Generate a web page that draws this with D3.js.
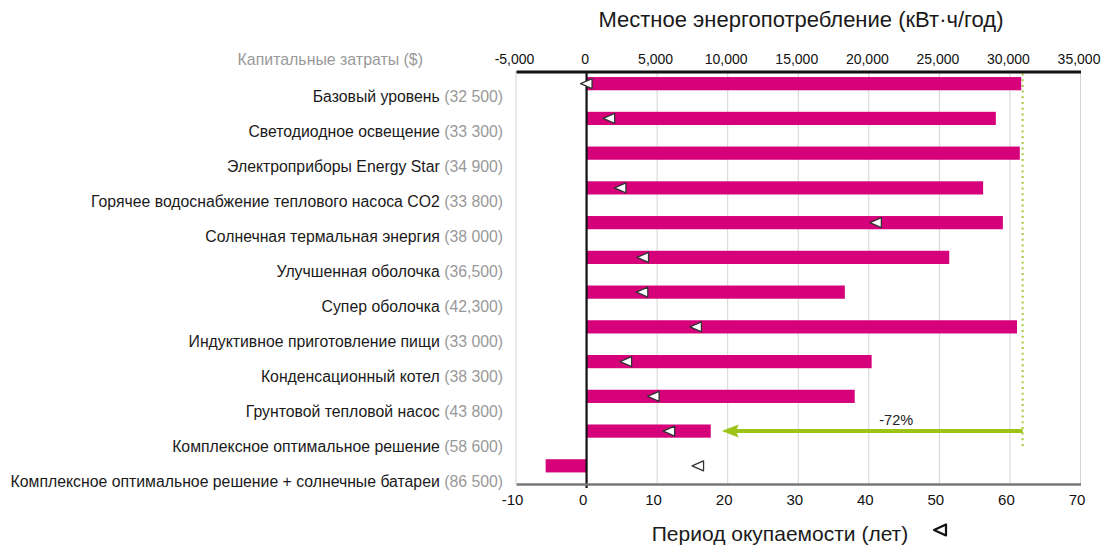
<!DOCTYPE html>
<html>
<head>
<meta charset="utf-8">
<script src="https://cdn.jsdelivr.net/npm/d3@7"></script>
<style>
  html, body { margin: 0; padding: 0; background: #fff; }
  svg { display: block; font-family: "Liberation Sans", Arial, Helvetica, sans-serif; }
</style>
</head>
<body>
<svg id="chart" width="1106" height="546"></svg>
<script>
// Measures, in display order
const categories = [
  "Базовый уровень",
  "Светодиодное освещение",
  "Электроприборы Energy Star",
  "Горячее водоснабжение теплового насоса CO2",
  "Солнечная термальная энергия",
  "Улучшенная оболочка",
  "Супер оболочка",
  "Индуктивное приготовление пищи",
  "Конденсационный котел",
  "Грунтовой тепловой насос",
  "Комплексное оптимальное решение",
  "Комплексное оптимальное решение + солнечные батареи"
];
// Capital cost shown next to each measure ($)
const capitalCosts = ["32 500", "33 300", "34 900", "33 800", "38 000", "36,500",
                      "42,300", "33 000", "38 300", "43 800", "58 600", "86 500"];
// Site energy use (kWh/year)
const energyUse = [30800, 29000, 30700, 28100, 29500, 25700, 18300, 30500, 20200, 19000, 8800, -2900];
// Simple payback (years); null where none is shown
const paybackYears = [0, 3.2, null, 4.8, 41, 8.0, 7.9, 15.5, 5.6, 9.5, 11.7, 15.8];
// Reference consumption level (dotted line)
const baselineEnergy = 30900;
const reductionLabel = "-72%";

const energyTicks = [-5000, 0, 5000, 10000, 15000, 20000, 25000, 30000, 35000];
const yearTicks = [-10, 0, 10, 20, 30, 40, 50, 60, 70];

const svg = d3.select("#chart");

const x = d3.scaleLinear().domain([-5000, 35000]).range([516, 1080.5]);
const xYears = d3.scaleLinear().domain([-10, 70]).range([516, 1080.5]);
const y = d3.scaleBand().domain(d3.range(categories.length)).range([66.3, 483.2]).paddingInner(0.62).paddingOuter(0.31);
const yLabel = d3.scaleBand().domain(d3.range(categories.length)).range([79, 499]);

const topY = 71.5, bottomY = 484;
const hyphen = f => d => f(d).replace("\u2212", "-");

// vertical grid
svg.append("g")
  .selectAll("line").data(energyTicks).join("line")
  .attr("x1", d => x(d)).attr("x2", d => x(d))
  .attr("y1", topY).attr("y2", bottomY)
  .attr("stroke", "#d4d4d4").attr("stroke-width", 1);

// bars
svg.append("g")
  .selectAll("rect").data(energyUse).join("rect")
  .attr("x", d => x(Math.min(0, d)))
  .attr("width", d => Math.abs(x(d) - x(0)))
  .attr("y", (d, i) => y(i))
  .attr("height", y.bandwidth())
  .attr("fill", "#d5007a");

// dotted reference line
svg.append("line")
  .attr("x1", x(baselineEnergy)).attr("x2", x(baselineEnergy))
  .attr("y1", topY + 2).attr("y2", y(10) + y.bandwidth() + 9)
  .attr("stroke", "#a6c93a").attr("stroke-width", 2)
  .attr("stroke-dasharray", "2,3.7");

// reduction arrow
const arrowY = y(10) + y.bandwidth() / 2;
const arrowTip = x(energyUse[10]) + 11;
const arrowStart = x(baselineEnergy);
svg.append("line")
  .attr("x1", arrowStart).attr("x2", arrowTip + 14)
  .attr("y1", arrowY).attr("y2", arrowY)
  .attr("stroke", "#9cc416").attr("stroke-width", 4);
svg.append("path")
  .attr("d", `M${arrowTip},${arrowY} L${arrowTip + 17},${arrowY - 6.5} L${arrowTip + 14},${arrowY} L${arrowTip + 17},${arrowY + 6.5} Z`)
  .attr("fill", "#9cc416");
svg.append("text")
  .attr("x", (arrowStart + arrowTip) / 2 + 24).attr("y", arrowY - 6)
  .attr("text-anchor", "middle").attr("font-size", 14.5).attr("fill", "#222")
  .text(reductionLabel);

// zero line
svg.append("line")
  .attr("x1", x(0)).attr("x2", x(0)).attr("y1", topY).attr("y2", bottomY + 4)
  .attr("stroke", "#111").attr("stroke-width", 2.2);

// top axis (energy)
const topAxis = svg.append("g").attr("transform", `translate(0,${topY})`)
  .call(d3.axisTop(x).tickValues(energyTicks).tickSize(0).tickPadding(8)
    .tickFormat(hyphen(d3.format(","))));
topAxis.select(".domain").attr("stroke", "#111").attr("stroke-width", 3);
topAxis.selectAll("text").attr("font-size", 14).attr("fill", "#111").attr("dx", -2)
  .attr("font-family", "Liberation Sans, Arial, sans-serif");

// bottom axis (years)
const bottomAxis = svg.append("g").attr("transform", `translate(0,${bottomY})`)
  .call(d3.axisBottom(xYears).tickValues(yearTicks).tickSize(0).tickPadding(10)
    .tickFormat(hyphen(d3.format("d"))));
bottomAxis.select(".domain").attr("stroke", "#777").attr("stroke-width", 2.5);
bottomAxis.selectAll("text").attr("font-size", 15).attr("fill", "#111").attr("dx", -4)
  .attr("font-family", "Liberation Sans, Arial, sans-serif");

// payback markers
const tri = (cx, cy) => `M${cx - 6},${cy} L${cx + 5.5},${cy - 5} L${cx + 5.5},${cy + 5} Z`;
svg.append("g")
  .selectAll("path").data(paybackYears.map((v, i) => ({ v, i })).filter(d => d.v !== null)).join("path")
  .attr("d", d => tri(xYears(d.v), y(d.i) + y.bandwidth() / 2))
  .attr("fill", "#fff").attr("stroke", "#333").attr("stroke-width", 1.3)
  .attr("stroke-linejoin", "round");

// category labels
const labels = svg.append("g").selectAll("text").data(categories).join("text")
  .attr("x", 503).attr("y", (d, i) => yLabel(i) + yLabel.bandwidth() / 2)
  .attr("dy", "0.35em").attr("text-anchor", "end").attr("font-size", 15.8);
labels.append("tspan").attr("fill", "#1a1a1a").text(d => d + " ");
labels.append("tspan").attr("fill", "#999").text((d, i) => "(" + capitalCosts[i] + ")");

// capital cost header
svg.append("text").attr("x", 423).attr("y", 65).attr("text-anchor", "end")
  .attr("font-size", 15.9).attr("fill", "#999").text("Капитальные затраты ($)");

// axis titles
svg.append("text").attr("x", 801).attr("y", 27).attr("text-anchor", "middle")
  .attr("font-size", 22).attr("fill", "#1a1a1a").text("Местное энергопотребление (кВт·ч/год)");
svg.append("text").attr("x", 780).attr("y", 541).attr("text-anchor", "middle")
  .attr("font-size", 21).attr("fill", "#1a1a1a").text("Период окупаемости (лет)");

// legend glyph for payback markers
svg.append("path")
  .attr("d", `M934,530 L946,524.5 L946,535.5 Z`)
  .attr("fill", "#fff").attr("stroke", "#111").attr("stroke-width", 2.2)
  .attr("stroke-linejoin", "round");
</script>
</body>
</html>
